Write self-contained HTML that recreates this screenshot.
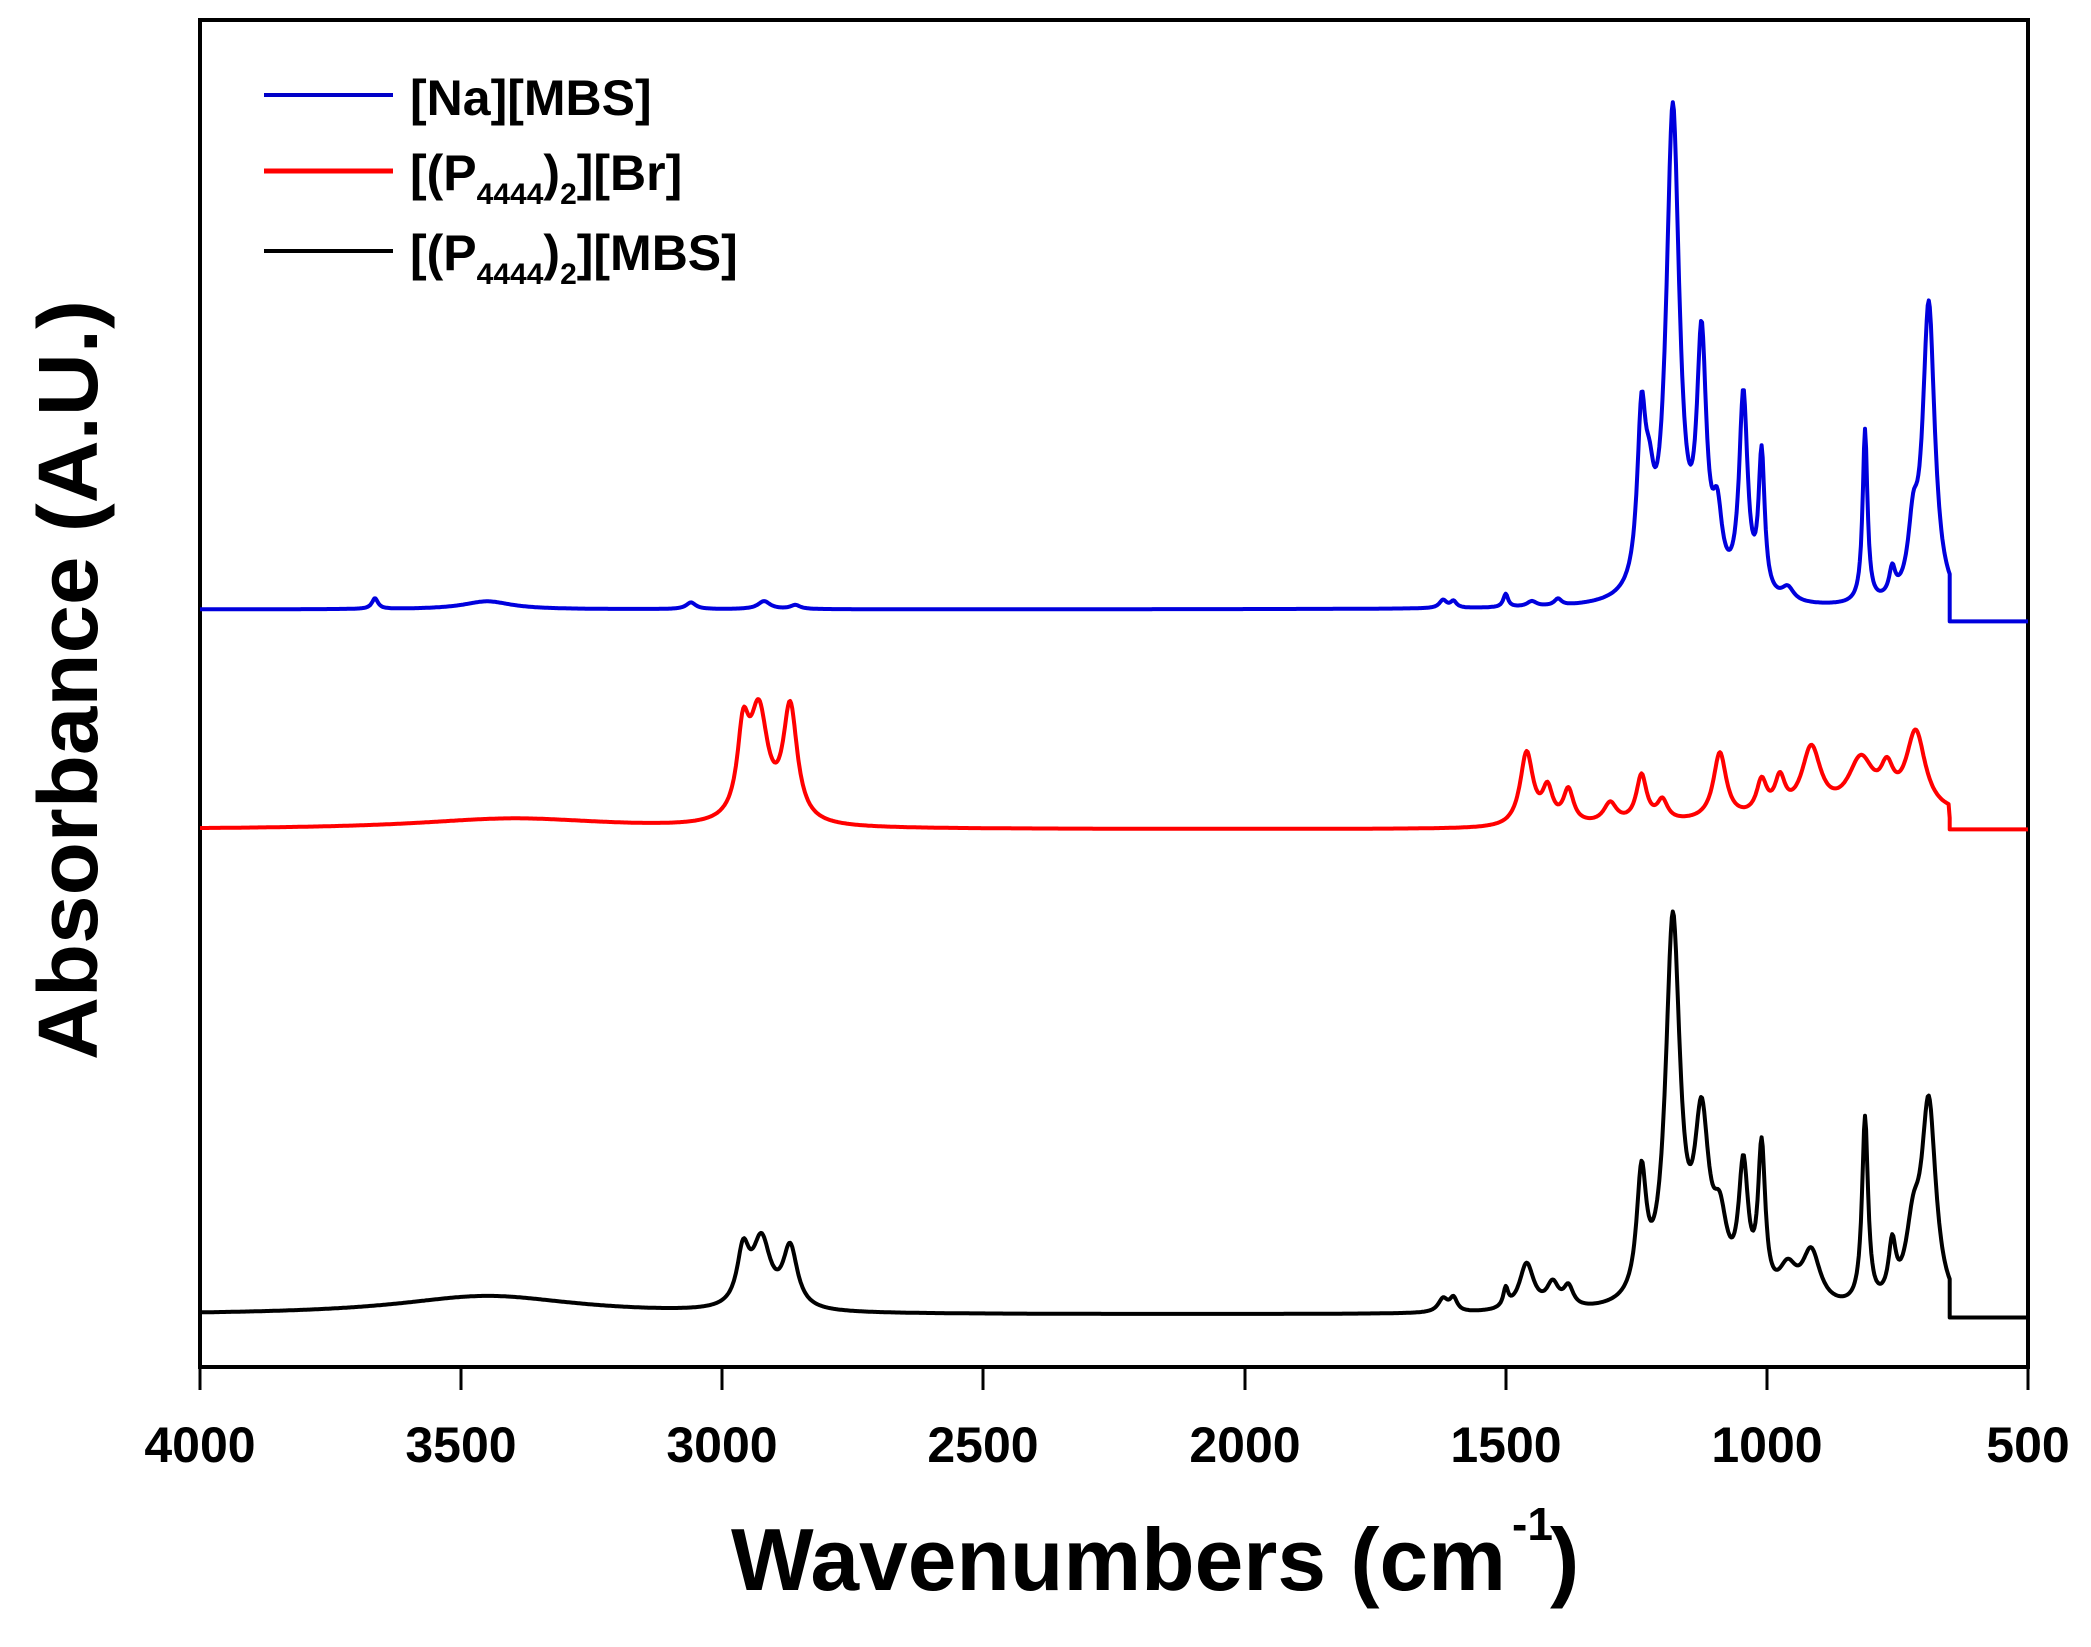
<!DOCTYPE html>
<html><head><meta charset="utf-8"><style>
html,body{margin:0;padding:0;background:#fff;width:2091px;height:1647px;overflow:hidden}
svg{display:block}
text{font-family:"Liberation Sans",Arial,sans-serif;font-weight:bold;fill:#000}
</style></head><body>
<svg id="s" width="2091" height="1647" viewBox="0 0 2091 1647" xmlns="http://www.w3.org/2000/svg">
<rect x="200" y="20" width="1828" height="1347" fill="none" stroke="#000" stroke-width="4"/>
<g stroke="#000" stroke-width="3">
<line x1="200" y1="1367" x2="200" y2="1390"/><line x1="461" y1="1367" x2="461" y2="1390"/>
<line x1="722" y1="1367" x2="722" y2="1390"/><line x1="983" y1="1367" x2="983" y2="1390"/>
<line x1="1245" y1="1367" x2="1245" y2="1390"/><line x1="1506" y1="1367" x2="1506" y2="1390"/>
<line x1="1767" y1="1367" x2="1767" y2="1390"/><line x1="2028" y1="1367" x2="2028" y2="1390"/>
</g>
<g font-size="50" text-anchor="middle">
<text x="200" y="1462">4000</text><text x="461" y="1462">3500</text><text x="722" y="1462">3000</text>
<text x="983" y="1462">2500</text><text x="1245" y="1462">2000</text><text x="1506" y="1462">1500</text>
<text x="1767" y="1462">1000</text><text x="2028" y="1462">500</text>
</g>
<text x="731" y="1590" font-size="88" textLength="775" lengthAdjust="spacingAndGlyphs">Wavenumbers (cm</text>
<text x="1512" y="1540" font-size="46">-1</text>
<text x="1550" y="1590" font-size="88">)</text>
<text transform="translate(97,680) rotate(-90)" font-size="84" text-anchor="middle" textLength="760" lengthAdjust="spacingAndGlyphs">Absorbance (A.U.)</text>
<line x1="264" y1="95" x2="393" y2="95" stroke="#0000c8" stroke-width="4"/>
<line x1="264" y1="171" x2="393" y2="171" stroke="#f00" stroke-width="5"/>
<line x1="264" y1="251" x2="393" y2="251" stroke="#000" stroke-width="4"/>
<g font-size="50">
<text x="410" y="115">[Na][MBS]</text>
<text x="410" y="190">[(P<tspan font-size="30" dy="14">4444</tspan><tspan dy="-14">)</tspan><tspan font-size="30" dy="14">2</tspan><tspan dy="-14">][Br]</tspan></text>
<text x="410" y="270">[(P<tspan font-size="30" dy="14">4444</tspan><tspan dy="-14">)</tspan><tspan font-size="30" dy="14">2</tspan><tspan dy="-14">][MBS]</tspan></text>
</g>
<path id="pb" fill="none" stroke="#0000dd" stroke-width="4" stroke-linejoin="round"/>
<path id="pr" fill="none" stroke="#f00" stroke-width="4" stroke-linejoin="round"/>
<path id="pk" fill="none" stroke="#000" stroke-width="4" stroke-linejoin="round"/>
</svg>
<script>
var S=1.3335;
function X(w){return 200+(4000-w)/3500*1828;}
function mk(id,base,endBase,peaks,wf,ramp){
 var d="";
 for(var w=4000;w>=650;w-=2){
  var h=0;for(var i=0;i<peaks.length;i++){var p=peaks[i];var t=(w-p[0])/(p[2]*wf);h+=p[1]/(1+t*t);}
  if(ramp)h+=ramp(w);
  var y=(base-h)*S;
  d+=(d?"L":"M")+X(w).toFixed(1)+" "+y.toFixed(1);
 }
 d+="L"+X(650).toFixed(1)+" "+(endBase*S).toFixed(1)+"L2028 "+(endBase*S).toFixed(1);
 document.getElementById(id).setAttribute("d",d);
}
mk("pb",457,466,[[3665,8,5],[3450,6,40],[3060,5,8],[2920,6,10],[2860,3,8],[1620,6,6],[1600,5,5],[1500,10,4],[1450,4,8],[1400,5,6],
 [1240,120,7],[1225,50,8],[1180,365,11],[1125,180,8],[1095,50,8],[1045,150,7],[1010,105,5],[960,10,10],[812,130,4],[760,20,5],[720,45,8],[690,225,10]],1.4);
mk("pr",622,622,[[3400,8,150],[2960,60,9],[2930,80,14],[2870,85,11],[1460,55,10],[1420,25,8],[1380,25,8],[1300,15,10],[1240,35,8],[1200,15,8],
 [1090,50,10],[1010,25,8],[975,25,8],[915,50,15],[820,40,20],[770,25,10],[715,60,15]],1.5,function(w){return w<1500&&w>650?(1500-w)/850*10:0;});
mk("pk",986,988,[[3450,14,150],[2960,40,10],[2925,50,15],[2870,45,12],[1620,10,8],[1600,10,6],[1500,14,4],[1460,35,12],[1410,18,10],[1380,15,8],
 [1240,90,8],[1180,285,12],[1125,125,12],[1090,50,12],[1045,95,8],[1010,110,6],[960,25,15],[915,40,15],[812,140,5],[760,40,6],[720,50,12],[690,150,12]],1.4);
</script>
</body></html>
